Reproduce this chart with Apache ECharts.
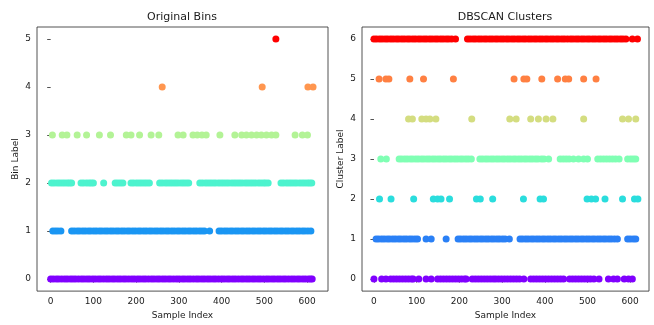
<!DOCTYPE html>
<html>
<head>
<meta charset="utf-8">
<script src="https://cdn.jsdelivr.net/npm/echarts@6/dist/echarts.min.js"></script>
<style>
  html, body { margin: 0; padding: 0; background: #ffffff; }
  #chart { width: 654px; height: 325px; }
</style>
</head>
<body>
<div id="chart"></div>
<script>
// Sample indices that fall into each original bin (y = bin label)
const bin0 = [0, 6, 13, 19, 26, 33, 39, 46, 52, 58, 65, 72, 78, 85, 91, 98, 104, 111, 117, 124, 131, 137, 144, 150, 157, 163, 170, 176, 183, 190, 196, 203, 209, 216, 222, 229, 236, 242, 249, 255, 262, 268, 275, 281, 288, 295, 301, 308, 314, 321, 327, 334, 341, 347, 354, 360, 367, 373, 380, 386, 393, 400, 406, 413, 419, 426, 432, 439, 446, 452, 459, 465, 472, 478, 485, 491, 498, 505, 511, 518, 524, 531, 537, 544, 550, 557, 564, 570, 577, 583, 590, 596, 603, 608, 612];
const bin1 = [5, 11, 17, 24, 49, 55, 62, 68, 75, 81, 88, 94, 101, 107, 114, 120, 127, 133, 140, 146, 153, 159, 166, 172, 179, 185, 192, 198, 205, 211, 218, 224, 231, 237, 244, 250, 257, 263, 270, 276, 283, 289, 296, 302, 309, 315, 322, 328, 335, 341, 348, 354, 360, 372, 394, 400, 407, 413, 420, 426, 433, 439, 446, 452, 459, 465, 472, 478, 485, 491, 498, 504, 511, 517, 524, 530, 537, 543, 550, 556, 563, 569, 576, 582, 589, 595, 602, 609];
const bin2 = [2, 8, 15, 21, 27, 33, 39, 44, 49, 71, 77, 84, 90, 95, 100, 124, 151, 157, 163, 169, 188, 194, 201, 207, 213, 219, 225, 231, 255, 261, 268, 274, 280, 286, 292, 298, 305, 311, 317, 323, 349, 355, 362, 368, 374, 380, 386, 393, 399, 405, 411, 417, 424, 430, 436, 442, 448, 455, 461, 467, 473, 479, 486, 492, 498, 503, 509, 539, 545, 552, 558, 564, 570, 576, 583, 589, 595, 601, 606, 611];
const bin3 = [4, 27, 38, 62, 84, 114, 140, 177, 188, 208, 235, 253, 298, 310, 333, 343, 354, 364, 396, 431, 447, 458, 470, 482, 493, 505, 517, 527, 572, 589, 601];
const bin4 = [261, 495, 602, 614];
const bin5 = [527];

// Sample indices assigned to each DBSCAN cluster (y = cluster label)
const cluster0 = [0, 18, 28, 39, 46, 53, 60, 67, 74, 81, 88, 92, 105, 122, 134, 149, 156, 163, 170, 177, 184, 191, 198, 205, 212, 216, 230, 237, 244, 251, 258, 265, 272, 279, 285, 292, 299, 306, 313, 320, 327, 334, 341, 351, 367, 374, 381, 388, 395, 402, 409, 416, 423, 430, 437, 444, 458, 465, 472, 479, 486, 493, 500, 507, 515, 527, 549, 561, 570, 586, 596, 605];
const cluster1 = [5, 11, 18, 24, 31, 37, 44, 50, 57, 63, 70, 76, 83, 89, 96, 102, 122, 134, 169, 197, 203, 210, 216, 223, 229, 236, 242, 249, 255, 262, 268, 275, 281, 288, 294, 301, 307, 317, 342, 348, 355, 361, 368, 374, 381, 387, 394, 400, 407, 413, 420, 426, 433, 439, 446, 452, 459, 465, 472, 478, 485, 491, 498, 504, 511, 517, 524, 530, 537, 543, 550, 556, 563, 570, 594, 600, 607, 613];
const cluster2 = [13, 40, 93, 139, 149, 157, 177, 240, 249, 278, 350, 389, 397, 499, 509, 519, 541, 582, 610, 618];
const cluster3 = [16, 29, 59, 65, 72, 78, 85, 91, 98, 104, 111, 117, 124, 130, 137, 143, 150, 156, 163, 169, 176, 182, 189, 195, 202, 208, 215, 221, 228, 248, 254, 261, 267, 274, 280, 287, 293, 300, 306, 313, 319, 326, 332, 339, 345, 352, 358, 365, 371, 378, 384, 392, 398, 409, 436, 443, 450, 457, 467, 479, 491, 500, 524, 531, 538, 545, 552, 559, 566, 574, 594, 601, 607, 613];
const cluster4 = [81, 90, 112, 122, 131, 145, 229, 318, 333, 367, 385, 403, 419, 491, 582, 596, 613];
const cluster5 = [12, 28, 35, 84, 116, 186, 328, 351, 358, 393, 430, 448, 456, 491, 520];
const cluster6 = [0, 6, 13, 19, 26, 32, 39, 45, 52, 58, 65, 71, 78, 84, 91, 97, 104, 110, 117, 123, 130, 136, 143, 149, 156, 162, 169, 175, 182, 191, 219, 225, 232, 238, 245, 251, 258, 264, 271, 277, 284, 290, 297, 303, 310, 316, 323, 329, 336, 342, 349, 355, 362, 368, 375, 381, 388, 394, 401, 407, 414, 420, 427, 433, 440, 446, 453, 460, 466, 473, 479, 486, 492, 499, 505, 512, 518, 525, 531, 538, 544, 551, 557, 564, 570, 577, 583, 590, 605, 617];

// Tick labels
const xTicks = [0, 100, 200, 300, 400, 500, 600];
const binTicks = [0, 1, 2, 3, 4, 5];
const clusterTicks = [0, 1, 2, 3, 4, 5, 6];

// Rainbow colormap samples for 6 bins and 7 clusters
const binColors = ['#8000ff', '#1a96f3', '#4df3ce', '#b3f396', '#ff964f', '#ff0000'];
const clusterColors = ['#8000ff', '#2a80f6', '#2adddd', '#80ffb4', '#d4dd80', '#ff8042', '#ff0000'];

const binRows = [bin0, bin1, bin2, bin3, bin4, bin5];
const clusterRows = [cluster0, cluster1, cluster2, cluster3, cluster4, cluster5, cluster6];

const FONT = 'DejaVu Sans';
const AXIS_COLOR = '#262626';
const TEXT_COLOR = '#1a1a1a';

function makeXAxis(gridIndex, min, max) {
  return {
    gridIndex, type: 'value', min, max,
    axisLine: { show: false },
    splitLine: { show: false },
    axisTick: { show: true, inside: false, length: 3.5, customValues: xTicks,
                lineStyle: { color: AXIS_COLOR, width: 0.8 } },
    axisLabel: { customValues: xTicks, margin: 6, fontSize: 9, color: TEXT_COLOR, fontFamily: FONT },
    name: 'Sample Index', nameLocation: 'middle', nameGap: 18,
    nameTextStyle: { fontSize: 9, color: TEXT_COLOR, fontFamily: FONT }
  };
}

function makeYAxis(gridIndex, ticks, name) {
  const top = ticks[ticks.length - 1];
  return {
    gridIndex, type: 'value', min: -0.05 * top, max: top * 1.05,
    axisLine: { show: false },
    splitLine: { show: false },
    axisTick: { show: true, inside: false, length: 3.5, customValues: ticks,
                lineStyle: { color: AXIS_COLOR, width: 0.8 } },
    axisLabel: { customValues: ticks, margin: 6, fontSize: 9, color: TEXT_COLOR, fontFamily: FONT },
    name, nameLocation: 'middle', nameGap: 17, nameRotate: 90,
    nameTextStyle: { fontSize: 9, color: TEXT_COLOR, fontFamily: FONT }
  };
}

function rowSeries(rows, colors, axisIndex) {
  return rows.map((xs, label) => ({
    type: 'scatter',
    xAxisIndex: axisIndex, yAxisIndex: axisIndex,
    symbol: 'circle', symbolSize: 7,
    itemStyle: { color: colors[label], opacity: 1 },
    silent: true,
    data: xs.map(x => [x, label])
  }));
}

const chart = echarts.init(document.getElementById('chart'), null, { renderer: 'canvas' });
chart.setOption({
  animation: false,
  backgroundColor: '#ffffff',
  graphic: [
    { type: 'text', x: 182, y: 17, style: { text: 'Original Bins', align: 'center', verticalAlign: 'middle',
      font: '11px "DejaVu Sans"', fill: TEXT_COLOR } },
    { type: 'text', x: 505, y: 17, style: { text: 'DBSCAN Clusters', align: 'center', verticalAlign: 'middle',
      font: '11px "DejaVu Sans"', fill: TEXT_COLOR } }
  ],
  grid: [
    { left: 37, top: 27, width: 291, height: 268, show: true, borderColor: AXIS_COLOR, borderWidth: 0.8 },
    { left: 362, top: 27, width: 287, height: 268, show: true, borderColor: AXIS_COLOR, borderWidth: 0.8 }
  ],
  xAxis: [makeXAxis(0, -32, 649), makeXAxis(1, -28, 644)],
  yAxis: [makeYAxis(0, binTicks, 'Bin Label'), makeYAxis(1, clusterTicks, 'Cluster Label')],
  series: [...rowSeries(binRows, binColors, 0), ...rowSeries(clusterRows, clusterColors, 1)]
});
</script>
</body>
</html>
